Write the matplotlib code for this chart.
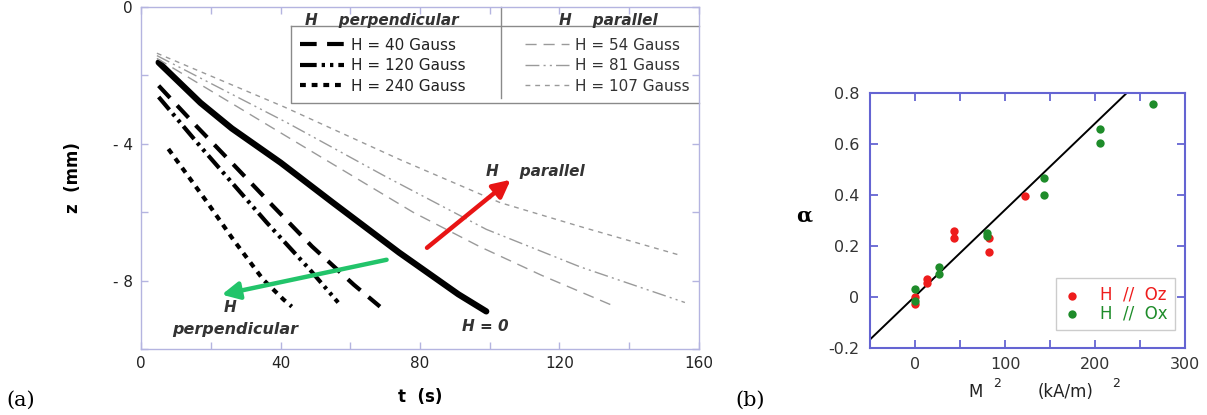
import numpy as np
import matplotlib
matplotlib.use("Agg")
import matplotlib.pyplot as plt

# ---- panel (a): z(t) trajectories ----
t_h0 = [5, 17, 26, 40, 55, 74, 91, 99]
z_h0 = [-1.62, -2.8, -3.55, -4.55, -5.72, -7.18, -8.4, -8.9]

t_p40 = [5, 16, 26.4, 38, 49, 55, 61, 68.5]
z_p40 = [-2.3, -3.5, -4.6, -5.84, -7.0, -7.56, -8.12, -8.76]
t_p120 = [5, 17, 36, 48.4, 56.5]
z_p120 = [-2.63, -4.08, -6.3, -7.68, -8.64]
t_p240 = [7.8, 19, 26.4, 35, 40.8, 43.2]
z_p240 = [-4.15, -5.72, -6.8, -7.97, -8.55, -8.76]

t_a54 = [4.5, 42, 78, 97, 115, 136]
z_a54 = [-1.5, -3.8, -6.0, -7.0, -7.85, -8.76]
t_a81 = [4.5, 42, 70, 99, 126, 156]
z_a81 = [-1.42, -3.39, -4.95, -6.5, -7.6, -8.64]
t_a107 = [4.5, 41, 74, 103, 126, 154]
z_a107 = [-1.35, -2.92, -4.45, -5.72, -6.42, -7.24]

perp_labels = ["H = 40 Gauss", "H = 120 Gauss", "H = 240 Gauss"]
par_labels = ["H = 54 Gauss", "H = 81 Gauss", "H = 107 Gauss"]

# ---- panel (b): alpha vs M^2 ----
m2_oz = [0, 0, 13, 13, 43, 43, 82, 82, 122]
a_oz = [0.0, -0.025, 0.07, 0.055, 0.26, 0.23, 0.23, 0.175, 0.395]
m2_ox = [0, 0, 26, 26, 80, 80, 143, 143, 205, 205, 264]
a_ox = [0.03, -0.015, 0.12, 0.09, 0.25, 0.24, 0.465, 0.40, 0.66, 0.605, 0.755]
fit_x = [-50, 235]
fit_y = [-0.165, 0.80]

fig = plt.figure(figsize=(12.07, 4.15), dpi=100)
plt.rcParams['font.family'] = 'DejaVu Sans'

ax = fig.add_axes([0.117, 0.159, 0.462, 0.824])
spc = '#b4b4e0'
k = 'black'
g = '#9a9a9a'
l1, = ax.plot(t_p40, z_p40, color=k, lw=3, dashes=(4, 2.5))
l2, = ax.plot(t_p120, z_p120, color=k, lw=3, dashes=(4, 1.2, 0.8, 1.2, 0.8, 1.2))
l3, = ax.plot(t_p240, z_p240, color=k, lw=3, dashes=(1.4, 1.4))
ax.plot(t_h0, z_h0, color=k, lw=4.5, solid_capstyle='round', solid_joinstyle='round')
g1, = ax.plot(t_a54, z_a54, color=g, lw=1, dashes=(8, 5))
g2, = ax.plot(t_a81, z_a81, color=g, lw=1, dashes=(10, 3, 1.5, 3, 1.5, 3))
g3, = ax.plot(t_a107, z_a107, color=g, lw=1, dashes=(3.5, 3.5))

ax.set_xlim(0, 160)
ax.set_ylim(-10, 0)
ax.set_xticks(np.arange(0, 161, 20))
ax.set_xticklabels(['0', '', '40', '', '80', '', '120', '', '160'])
ax.set_yticks(np.arange(-10, 1, 2))
ax.set_yticklabels(['', '- 8', '', '- 4', '', '0'])
ax.tick_params(direction='in', length=5, width=1, color=spc, top=True, right=True,
               labelsize=11, labelcolor='#222222')
ax.tick_params(axis='x', pad=5)
ax.tick_params(axis='y', pad=6)
for s in ax.spines.values():
    s.set_color(spc)
    s.set_linewidth(1)
ax.set_xlabel('t  (s)', fontsize=12, fontweight='bold', labelpad=12)
ax.set_ylabel('z  (mm)', fontsize=12, fontweight='bold', labelpad=22)

# legend table
bc = '#8a8a8a'
box = dict(color=bc, lw=1, transform=ax.transAxes, clip_on=False)
ax.plot([0.269, 0.269, 1.0], [0.944, 0.719, 0.719], **box)
ax.plot([0.269, 1.0], [0.944, 0.944], **box)
ax.plot([0.645, 0.645], [1.0, 0.733], **box)
ax.text(0.432, 0.962, 'H    perpendicular', transform=ax.transAxes, ha='center', va='center',
        fontsize=11, style='italic', fontweight='bold', color='#333333')
ax.text(0.837, 0.962, 'H    parallel', transform=ax.transAxes, ha='center', va='center',
        fontsize=11, style='italic', fontweight='bold', color='#333333')
leg1 = ax.legend([l1, l2, l3], perp_labels, loc='upper left', bbox_to_anchor=(0.285, 0.91),
                 frameon=False, fontsize=11, handlelength=2.9, handletextpad=0.4,
                 labelspacing=0.36, borderpad=0, borderaxespad=0, labelcolor='#222222')
ax.add_artist(leg1)
ax.legend([g1, g2, g3], par_labels, loc='upper left', bbox_to_anchor=(0.688, 0.91),
          frameon=False, fontsize=11, handlelength=2.9, handletextpad=0.4,
          labelspacing=0.36, borderpad=0, borderaxespad=0, labelcolor='#333333')

arrow_par = [(82, -7.04), (106, -5.05)]
arrow_perp = [(70.4, -7.39), (23.1, -8.41)]
ax.annotate('', xy=arrow_par[1], xytext=arrow_par[0],
            arrowprops=dict(arrowstyle='-|>', color='#e81414', lw=3.2, mutation_scale=26,
                            shrinkA=0, shrinkB=0))
ax.annotate('', xy=arrow_perp[1], xytext=arrow_perp[0],
            arrowprops=dict(arrowstyle='-|>', color='#22c46a', lw=3.2, mutation_scale=26,
                            shrinkA=0, shrinkB=0))
ax.text(99, -4.82, 'H    parallel', fontsize=11, style='italic', fontweight='bold',
        color='#333333', ha='left', va='center')
ax.text(25.5, -8.79, 'H', fontsize=11, style='italic', fontweight='bold',
        color='#333333', ha='center', va='center')
ax.text(27, -9.43, 'perpendicular', fontsize=11.5, style='italic', fontweight='bold',
        color='#333333', ha='center', va='center')
ax.text(98.6, -9.34, 'H = 0', fontsize=11, style='italic', fontweight='bold',
        color='#333333', ha='center', va='center')

# ---- panel (b) ----
bx = fig.add_axes([0.721, 0.161, 0.261, 0.615])
bspc = '#6464d2'
red = '#ee1c1c'
green = '#1e8c2a'
bx.plot(fit_x, fit_y, color='black', lw=1.4)
bx.scatter(m2_oz, a_oz, s=36, color=red, label='H  //  Oz', zorder=3, linewidths=0)
bx.scatter(m2_ox, a_ox, s=36, color=green, label='H  //  Ox', zorder=3, linewidths=0)
bx.set_xlim(-50, 300)
bx.set_ylim(-0.2, 0.8)
bx.set_xticks(np.arange(-50, 301, 50))
bx.set_xticklabels(['', '0', '', '100', '', '200', '', '300'])
bx.set_yticks(np.arange(-0.2, 0.81, 0.2))
bx.set_yticklabels(['-0.2', '0', '0.2', '0.4', '0.6', '0.8'])
bx.tick_params(direction='in', length=6, width=1.3, color=bspc, top=True, right=True,
               labelsize=11.5, labelcolor='#333333')
bx.tick_params(axis='x', pad=6)
bx.tick_params(axis='y', pad=8)
for s in bx.spines.values():
    s.set_color(bspc)
    s.set_linewidth(1.5)
lg = bx.legend(loc='lower right', bbox_to_anchor=(0.968, 0.07), fontsize=12,
               handletextpad=1.2, labelspacing=0.05, borderpad=0.45, handlelength=1.0,
               fancybox=False, edgecolor='#cccccc', framealpha=1, labelcolor=[red, green],
               borderaxespad=0)
bx.text(-0.21, 0.52, 'α', transform=bx.transAxes, fontsize=15, fontweight='bold',
        family='DejaVu Serif', ha='center', va='center')
fig.text(0.802, 0.055, 'M', fontsize=12, ha='left', va='center', color='#222222')
fig.text(0.823, 0.075, '2', fontsize=9, ha='left', va='center', color='#222222')
fig.text(0.860, 0.055, '(kA/m)', fontsize=12, ha='left', va='center', color='#222222')
fig.text(0.921, 0.075, '2', fontsize=9, ha='left', va='center', color='#222222')

fig.text(0.005, 0.035, '(a)', fontsize=15, family='DejaVu Serif', ha='left', va='center')
fig.text(0.609, 0.035, '(b)', fontsize=15, family='DejaVu Serif', ha='left', va='center')

fig.savefig('out.png', dpi=100)
